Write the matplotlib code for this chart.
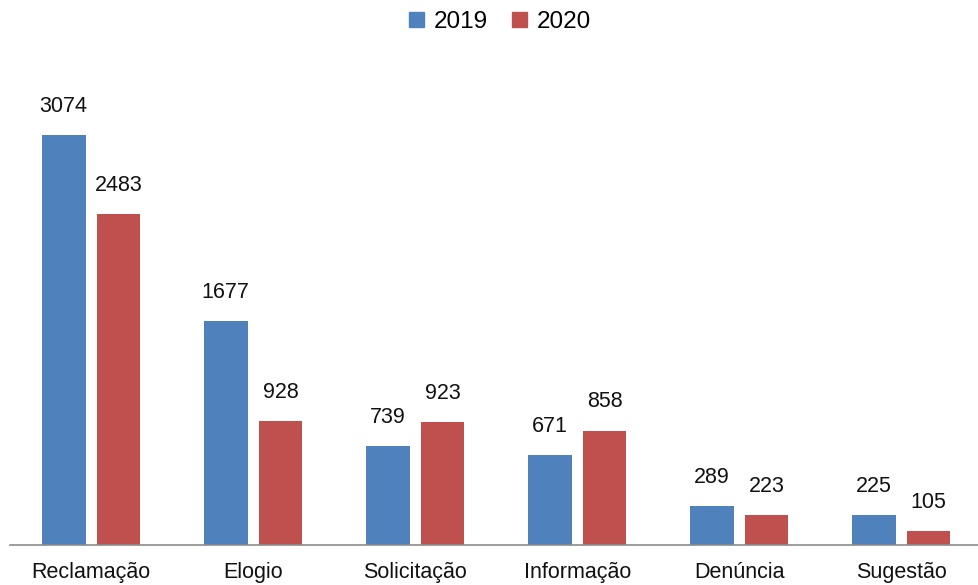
import numpy as np
import matplotlib
matplotlib.use('Agg')
import matplotlib.pyplot as plt
from matplotlib.patches import Patch

categories = ['Reclamação', 'Elogio', 'Solicitação', 'Informação', 'Denúncia', 'Sugestão']
values_2019 = [3074, 1677, 739, 671, 289, 225]
values_2020 = [2483, 928, 923, 858, 223, 105]
series_names = ['2019', '2020']

plt.rcParams['font.family'] = ['Liberation Sans', 'DejaVu Sans']

blue = '#4F81BD'
red = '#C0504D'

fig = plt.figure(figsize=(9.79, 5.85), dpi=100)
# axes spans nearly the full width, baseline near the bottom
ax = fig.add_axes([10/979, 40/585, 969/979, 467/585])

x = np.arange(len(categories))
width = 0.27
offset = 0.169

b1 = ax.bar(x - offset, values_2019, width, color=blue)
b2 = ax.bar(x + offset, values_2020, width, color=red)

for bars, vals in [(b1, values_2019), (b2, values_2020)]:
    for bar, v in zip(bars, vals):
        ax.annotate(str(v), (bar.get_x() + bar.get_width()/2, v),
                    xytext=(0, 13), textcoords='offset points',
                    ha='center', va='bottom', fontsize=15.5, color='#111111')

ax.set_xlim(-0.5, 5.48)
ax.set_ylim(0, 3500)
ax.set_xticks(x)
ax.set_xticklabels(categories, fontsize=15.5, color='#111111')
ax.tick_params(axis='x', length=0, pad=12)
ax.set_yticks([])
for s in ['top', 'right', 'left']:
    ax.spines[s].set_visible(False)
ax.spines['bottom'].set_color('#8c8c8c')
ax.spines['bottom'].set_linewidth(1.2)

handles = [Patch(color=blue), Patch(color=red)]
fig.legend(handles, series_names, loc='center', bbox_to_anchor=(500/979, 1 - 22/585),
           ncol=2, frameon=False, prop={'size': 17.5},
           handlelength=0.6, handleheight=0.6, handletextpad=0.4, columnspacing=1.0)

plt.savefig('out.png', dpi=100)
